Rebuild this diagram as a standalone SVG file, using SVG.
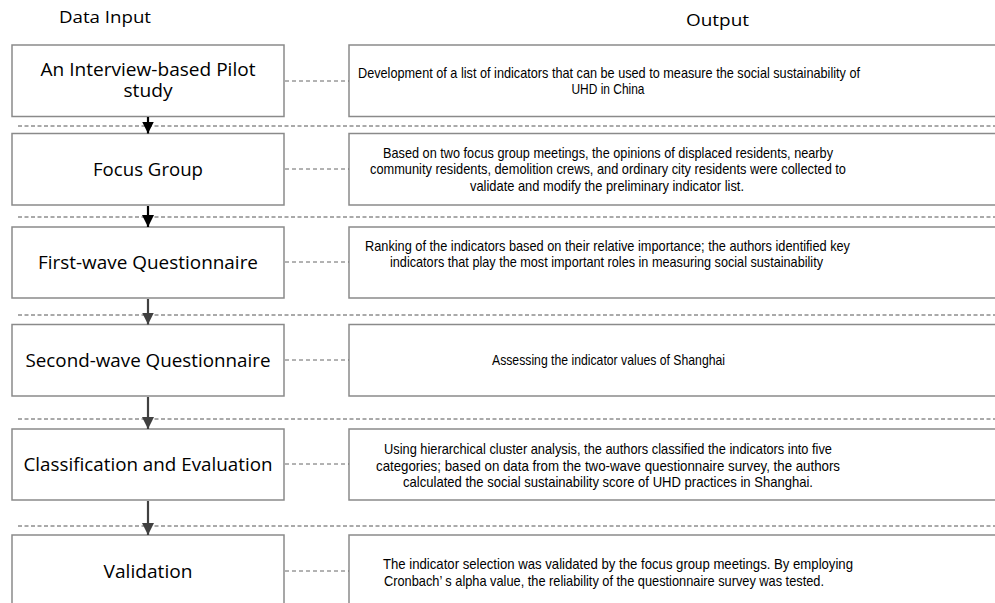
<svg xmlns="http://www.w3.org/2000/svg" width="995" height="603" viewBox="0 0 995 603">
  <style>
    .box { fill: #ffffff; stroke: #8a8a8a; stroke-width: 1.5; }
    .head { font-family: "Open Sans", "DejaVu Sans", sans-serif; font-size: 16px; fill: #000; }
    .step { font-family: "Open Sans", "DejaVu Sans", sans-serif; font-size: 18px; fill: #000; text-anchor: middle; }
    .out { font-family: "Liberation Sans", Arial, sans-serif; font-size: 14.5px; fill: #000; text-anchor: middle; }
    .sep { stroke: #555555; stroke-width: 1; stroke-dasharray: 4 2.5; fill: none; }
    .link { stroke: #666666; stroke-width: 1; stroke-dasharray: 4 3; fill: none; }
    .flow { stroke-width: 2.2; fill: none; }
  </style>
  <defs>
    <marker id="tipDark" markerUnits="userSpaceOnUse" viewBox="0 0 12 12" markerWidth="12" markerHeight="12" refX="12" refY="6" orient="auto">
      <path d="M0,0 L12,6 L0,12 z" fill="#000000"/>
    </marker>
    <marker id="tipGrey" markerUnits="userSpaceOnUse" viewBox="0 0 12 12" markerWidth="12" markerHeight="12" refX="12" refY="6" orient="auto">
      <path d="M0,0 L12,6 L0,12 z" fill="#404040"/>
    </marker>
  </defs>

  <rect width="995" height="603" fill="#ffffff"/>

  <text class="head" x="59" y="23" textLength="92" lengthAdjust="spacingAndGlyphs">Data Input</text>
  <text class="head" x="686" y="26" textLength="63" lengthAdjust="spacingAndGlyphs">Output</text>

  <!-- stage separators -->
  <g id="separators">
    <line class="sep" x1="18" y1="126" x2="995" y2="126"/>
    <line class="sep" x1="18" y1="217" x2="995" y2="217"/>
    <line class="sep" x1="18" y1="315" x2="995" y2="315"/>
    <line class="sep" x1="18" y1="419" x2="995" y2="419"/>
    <line class="sep" x1="18" y1="526" x2="995" y2="526"/>
  </g>

  <!-- input stages -->
  <g id="pilot-study">
    <rect class="box" x="12" y="45" width="272" height="71.5"/>
    <text class="step" x="148" y="76" textLength="215" lengthAdjust="spacingAndGlyphs">An Interview-based Pilot</text>
    <text class="step" x="148" y="96.5" textLength="49" lengthAdjust="spacingAndGlyphs">study</text>
  </g>
  <g id="focus-group">
    <rect class="box" x="12" y="133.5" width="272" height="71.5"/>
    <text class="step" x="148" y="175.5" textLength="110" lengthAdjust="spacingAndGlyphs">Focus Group</text>
  </g>
  <g id="first-wave">
    <rect class="box" x="12" y="227" width="272" height="71"/>
    <text class="step" x="148" y="268.5" textLength="220" lengthAdjust="spacingAndGlyphs">First-wave Questionnaire</text>
  </g>
  <g id="second-wave">
    <rect class="box" x="12" y="324.5" width="272" height="71.5"/>
    <text class="step" x="148" y="366.5" textLength="245" lengthAdjust="spacingAndGlyphs">Second-wave Questionnaire</text>
  </g>
  <g id="classification">
    <rect class="box" x="12" y="429" width="272" height="71"/>
    <text class="step" x="148" y="470.5" textLength="249" lengthAdjust="spacingAndGlyphs">Classification and Evaluation</text>
  </g>
  <g id="validation">
    <rect class="box" x="12" y="535" width="272" height="75"/>
    <text class="step" x="148" y="577.5" textLength="89" lengthAdjust="spacingAndGlyphs">Validation</text>
  </g>

  <!-- outputs -->
  <g id="out-pilot">
    <rect class="box" x="349" y="45" width="660" height="71.5"/>
    <text class="out" x="609" y="77.5" textLength="502" lengthAdjust="spacingAndGlyphs">Development of a list of indicators that can be used to measure the social sustainability of</text>
    <text class="out" x="608" y="94" textLength="73" lengthAdjust="spacingAndGlyphs">UHD in China</text>
  </g>
  <g id="out-focus">
    <rect class="box" x="349" y="133.5" width="660" height="71.5"/>
    <text class="out" x="608" y="157.5" textLength="450" lengthAdjust="spacingAndGlyphs">Based on two focus group meetings,  the opinions of displaced residents, nearby</text>
    <text class="out" x="608" y="174" textLength="476" lengthAdjust="spacingAndGlyphs">community residents, demolition crews, and ordinary city residents were collected to</text>
    <text class="out" x="607" y="190.5" textLength="274" lengthAdjust="spacingAndGlyphs">validate and modify the preliminary indicator list.</text>
  </g>
  <g id="out-first">
    <rect class="box" x="349" y="227" width="660" height="71"/>
    <text class="out" x="607.5" y="251" textLength="485" lengthAdjust="spacingAndGlyphs">Ranking of the indicators based on their relative importance; the authors identified key</text>
    <text class="out" x="606.5" y="267" textLength="433" lengthAdjust="spacingAndGlyphs">indicators that play the most important roles in measuring social sustainability</text>
  </g>
  <g id="out-second">
    <rect class="box" x="349" y="324.5" width="660" height="71.5"/>
    <text class="out" x="608.5" y="365" textLength="233" lengthAdjust="spacingAndGlyphs">Assessing the indicator values of Shanghai</text>
  </g>
  <g id="out-classification">
    <rect class="box" x="349" y="429" width="660" height="71"/>
    <text class="out" x="608" y="454" textLength="448" lengthAdjust="spacingAndGlyphs">Using hierarchical cluster analysis, the authors classified the indicators into five</text>
    <text class="out" x="608" y="470.5" textLength="464" lengthAdjust="spacingAndGlyphs">categories; based on data from the two-wave questionnaire survey, the authors</text>
    <text class="out" x="608" y="487" textLength="410" lengthAdjust="spacingAndGlyphs">calculated the social sustainability score of UHD practices in Shanghai.</text>
  </g>
  <g id="out-validation">
    <rect class="box" x="349" y="535" width="660" height="75"/>
    <text class="out" x="618" y="569" textLength="470" lengthAdjust="spacingAndGlyphs">The indicator selection was validated by the focus group meetings. By employing</text>
    <text class="out" x="604" y="585.5" textLength="440" lengthAdjust="spacingAndGlyphs">Cronbach’ s alpha value,  the reliability of the questionnaire survey was tested.</text>
  </g>

  <!-- connectors -->
  <g id="connectors">
    <line class="link" x1="285" y1="81" x2="349" y2="81"/>
    <line class="link" x1="285" y1="169" x2="349" y2="169"/>
    <line class="link" x1="285" y1="262" x2="349" y2="262"/>
    <line class="link" x1="285" y1="360" x2="349" y2="360"/>
    <line class="link" x1="285" y1="464" x2="349" y2="464"/>
    <line class="link" x1="285" y1="571" x2="349" y2="571"/>

    <line class="flow" stroke="#000000" x1="148" y1="117" x2="148" y2="133.5" marker-end="url(#tipDark)"/>
    <line class="flow" stroke="#000000" x1="148" y1="206" x2="148" y2="227" marker-end="url(#tipDark)"/>
    <line class="flow" stroke="#404040" x1="148" y1="299" x2="148" y2="324.5" marker-end="url(#tipGrey)"/>
    <line class="flow" stroke="#404040" x1="148" y1="397" x2="148" y2="429" marker-end="url(#tipGrey)"/>
    <line class="flow" stroke="#404040" x1="148" y1="501" x2="148" y2="535" marker-end="url(#tipGrey)"/>
  </g>
</svg>
